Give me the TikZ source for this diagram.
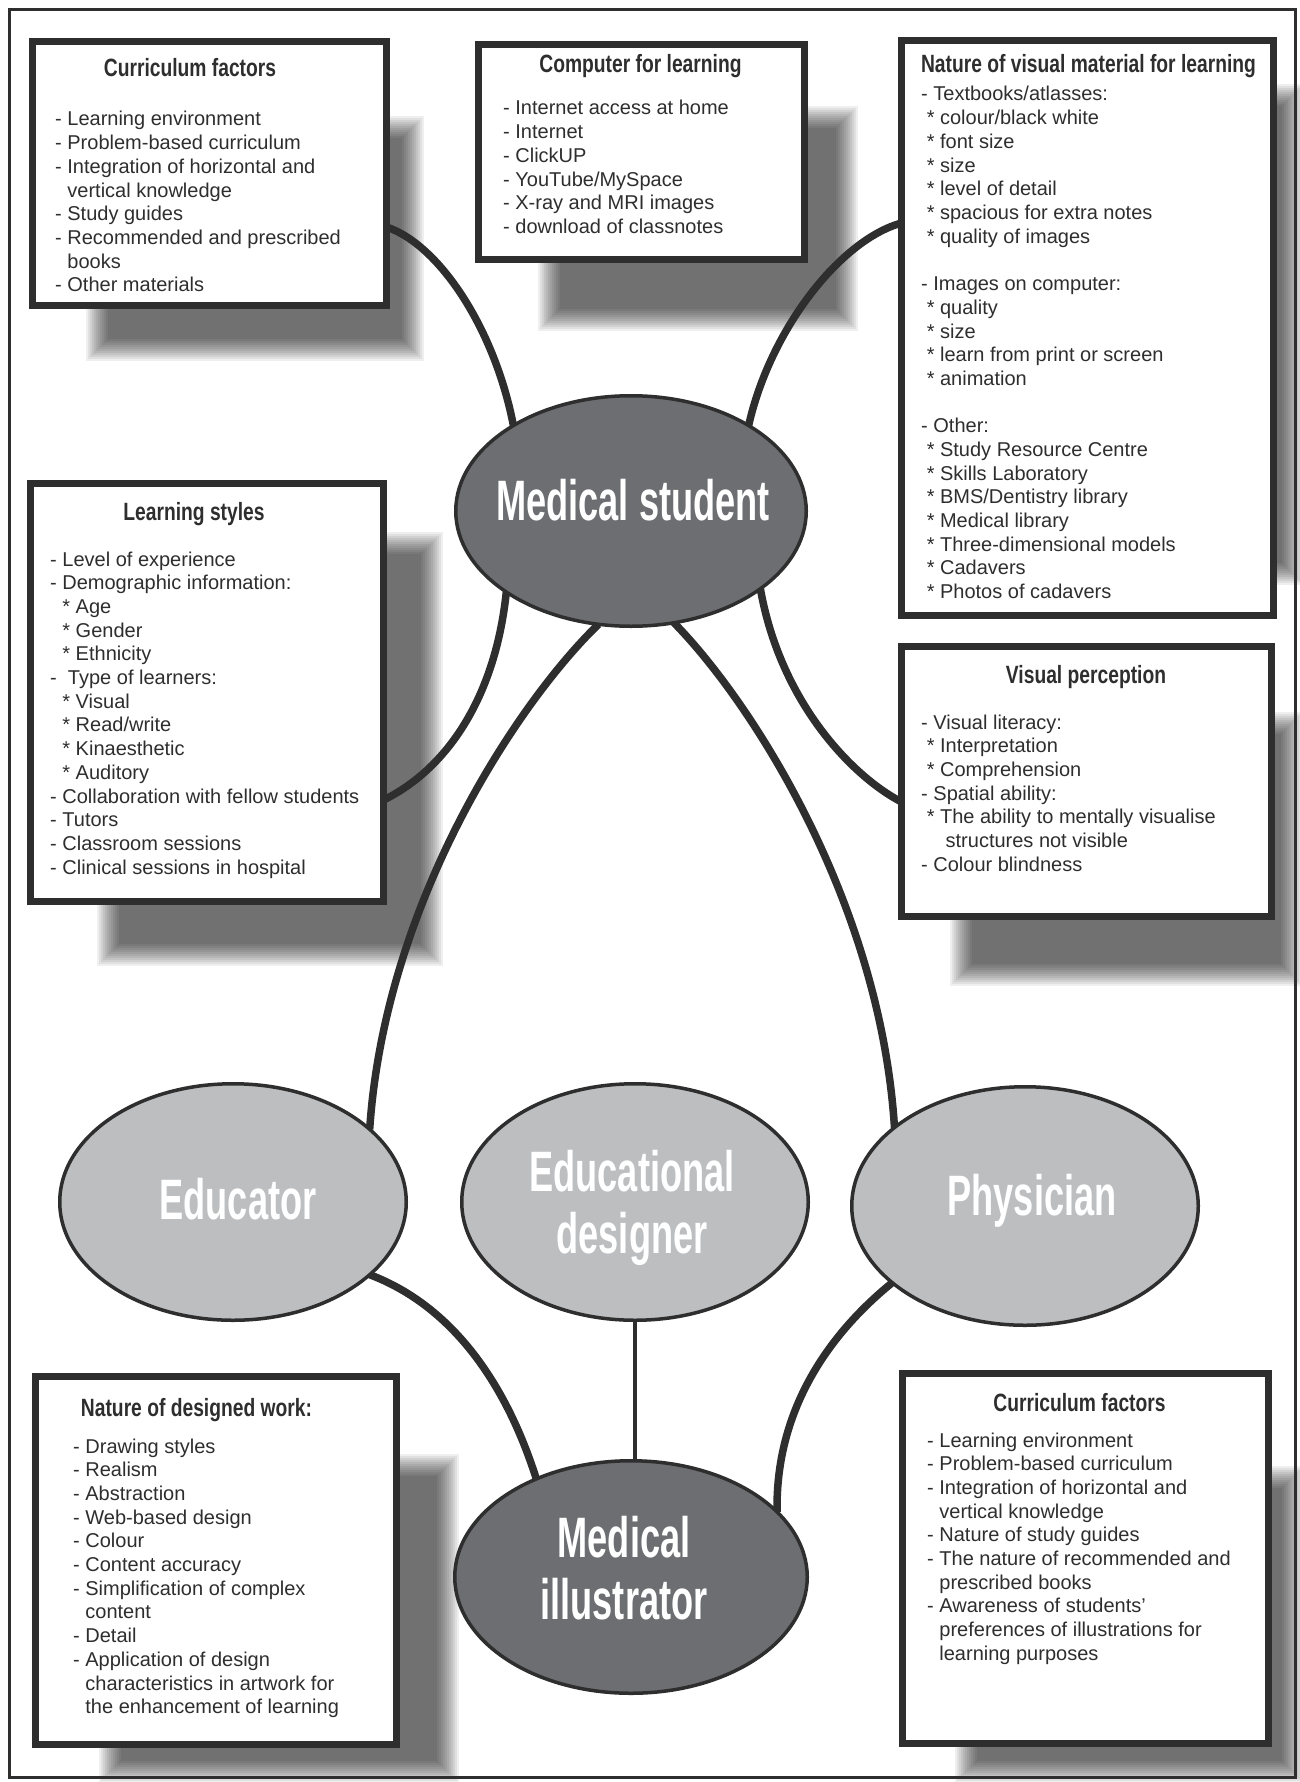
\documentclass[tikz,border=0pt]{standalone}
\usepackage{fontspec}
\setmainfont{Liberation Sans}
\newfontfamily\titlefont[FakeStretch=0.77]{Liberation Sans}
\newfontfamily\ellfont[FakeStretch=0.635]{Liberation Sans}
\usetikzlibrary{shapes.geometric}
\definecolor{ink}{HTML}{2E2E2E}
\definecolor{darkell}{HTML}{6D6E71}
\definecolor{lightell}{HTML}{BCBEC0}
\pgfdeclarelayer{paper}
\pgfdeclarelayer{shadow}
\pgfdeclarelayer{lines}
\pgfsetlayers{paper,shadow,lines,main}
\newcommand\myl[1]{\hbox{#1}}
\newcommand\blk[1]{\vtop{\baselineskip=23.7pt\lineskip=0pt\lineskiplimit=-100pt #1}}
\newcommand\myind{\hphantom{-\ }}
\newcommand\softshadow[4]{\foreach \k in {0,...,11}{\fill[black,opacity=0.063] ({#1-11+2*\k},{#2-11+2*\k}) rectangle ({#3+11-2*\k},{#4+11-2*\k});}}
\tikzset{
  infobox/.style={draw=ink, line width=7pt, fill=white, inner sep=0pt, outer sep=0pt},
  boxtitle/.style={anchor=base, inner sep=0pt, text=ink, font=\titlefont\bfseries\fontsize{25}{30}\selectfont},
  boxbody/.style={anchor=base west, inner sep=0pt, text=ink, font=\fontsize{20}{23.7}\selectfont},
  roleA/.style={ellipse, draw=ink, line width=3.5pt, fill=darkell, inner sep=0pt, outer sep=0pt},
  roleB/.style={roleA, fill=lightell},
  rolelabel/.style={anchor=base, inner sep=0pt, text=white, font=\ellfont\bfseries\fontsize{57}{62}\selectfont},
  link/.style={draw=ink, line width=7.5pt},
  thinlink/.style={draw=ink, line width=4.5pt},
  frame/.style={draw=ink, line width=3pt}
}
\begin{document}
\begin{tikzpicture}[x=1pt,y=-1pt]
\useasboundingbox (0,0) rectangle (1300,1782);
\begin{pgfonlayer}{paper}
\fill[white] (0,0) rectangle (1300,1782);
\end{pgfonlayer}
\draw[frame] (9.5,10) rectangle (1295,1777);

% shadows
\begin{pgfonlayer}{shadow}
\softshadow{97}{127}{413}{350}
\softshadow{549}{117}{847}{320}
\softshadow{960}{95}{1293}{574}
\softshadow{108}{543}{432}{955}
\softshadow{961}{723}{1292}{975}
\softshadow{110}{1465}{448}{1772}
\softshadow{966}{1477}{1293}{1772}
\end{pgfonlayer}

% boxes
\node[infobox, minimum width=354pt, minimum height=264pt] (b1) at (209.5,173.5) {};
\node[infobox, minimum width=326pt, minimum height=215pt] (b2) at (641.5,152) {};
\node[infobox, minimum width=372pt, minimum height=575pt] (b3) at (1087.5,328) {};
\node[infobox, minimum width=353pt, minimum height=418pt] (b4) at (207,692.5) {};
\node[infobox, minimum width=370pt, minimum height=270pt] (b5) at (1086.5,781.5) {};
\node[infobox, minimum width=361pt, minimum height=368pt] (b6) at (216,1560.5) {};
\node[infobox, minimum width=366pt, minimum height=370pt] (b7) at (1085.5,1558.5) {};

% titles
\node[boxtitle] (b1t) at (190,77) {Curriculum factors};
\node[boxtitle] (b2t) at (640.5,73) {Computer for learning};
\node[boxtitle] (b3t) at (1088.5,73) {Nature of visual material for learning};
\node[boxtitle] (b4t) at (194,520) {Learning styles};
\node[boxtitle] (b5t) at (1086,683) {Visual perception};
\node[boxtitle] (b6t) at (196.5,1416) {Nature of designed work:};
\node[boxtitle] (b7t) at (1079.5,1411) {Curriculum factors};

% bodies
\node[boxbody] (b1b) at (55,126) {\blk{%
\myl{- Learning environment}%
\myl{- Problem-based curriculum}%
\myl{- Integration of horizontal and}%
\myl{\myind vertical knowledge}%
\myl{- Study guides}%
\myl{- Recommended and prescribed}%
\myl{\myind books}%
\myl{- Other materials}}};

\node[boxbody] (b2b) at (503,115) {\blk{%
\myl{- Internet access at home}%
\myl{- Internet}%
\myl{- ClickUP}%
\myl{- YouTube/MySpace}%
\myl{- X-ray and MRI images}%
\myl{- download of classnotes}}};

\node[boxbody] (b3b) at (921,101) {\blk{%
\myl{- Textbooks/atlasses:}%
\myl{\ * colour/black white}%
\myl{\ * font size}%
\myl{\ * size}%
\myl{\ * level of detail}%
\myl{\ * spacious for extra notes}%
\myl{\ * quality of images}%
\myl{}%
\myl{- Images on computer:}%
\myl{\ * quality}%
\myl{\ * size}%
\myl{\ * learn from print or screen}%
\myl{\ * animation}%
\myl{}%
\myl{- Other:}%
\myl{\ * Study Resource Centre}%
\myl{\ * Skills Laboratory}%
\myl{\ * BMS/Dentistry library}%
\myl{\ * Medical library}%
\myl{\ * Three-dimensional models}%
\myl{\ * Cadavers}%
\myl{\ * Photos of cadavers}}};

\node[boxbody] (b4b) at (50,566) {\blk{%
\myl{- Level of experience}%
\myl{- Demographic information:}%
\myl{\myind * Age}%
\myl{\myind * Gender}%
\myl{\myind * Ethnicity}%
\myl{-\ \ Type of learners:}%
\myl{\myind * Visual}%
\myl{\myind * Read/write}%
\myl{\myind * Kinaesthetic}%
\myl{\myind * Auditory}%
\myl{- Collaboration with fellow students}%
\myl{- Tutors}%
\myl{- Classroom sessions}%
\myl{- Clinical sessions in hospital}}};

\node[boxbody] (b5b) at (921,729) {\blk{%
\myl{- Visual literacy:}%
\myl{\ * Interpretation}%
\myl{\ * Comprehension}%
\myl{- Spatial ability:}%
\myl{\ * The ability to mentally visualise}%
\myl{\hphantom{\ *\ }\ structures not visible}%
\myl{- Colour blindness}}};

\node[boxbody] (b6b) at (73,1453) {\blk{%
\myl{- Drawing styles}%
\myl{- Realism}%
\myl{- Abstraction}%
\myl{- Web-based design}%
\myl{- Colour}%
\myl{- Content accuracy}%
\myl{- Simplification of complex}%
\myl{\myind content}%
\myl{- Detail}%
\myl{- Application of design}%
\myl{\myind characteristics in artwork for}%
\myl{\myind the enhancement of learning}}};

\node[boxbody] (b7b) at (927,1447) {\blk{%
\myl{- Learning environment}%
\myl{- Problem-based curriculum}%
\myl{- Integration of horizontal and}%
\myl{\myind vertical knowledge}%
\myl{- Nature of study guides}%
\myl{- The nature of recommended and}%
\myl{\myind prescribed books}%
\myl{- Awareness of students’}%
\myl{\myind preferences of illustrations for}%
\myl{\myind learning purposes}}};

% ellipses
\node[roleA, minimum width=350.5pt, minimum height=230.5pt] (ms) at (631,511) {};
\node[roleB, minimum width=346.5pt, minimum height=236.5pt] (edu) at (233,1202) {};
\node[roleB, minimum width=346.5pt, minimum height=236.5pt] (ed) at (635,1202) {};
\node[roleB, minimum width=346.5pt, minimum height=238.5pt] (phy) at (1025,1206) {};
\node[roleA, minimum width=352.5pt, minimum height=232.5pt] (mi) at (631,1577) {};

\node[rolelabel] (mst) at (633,520) {Medical student};
\node[rolelabel] (edut) at (238,1219) {Educator};
\node[rolelabel] (edt) at (632,1191) {\vtop{\baselineskip=62pt\lineskiplimit=-100pt\hbox to 0pt{\hss Educational\hss}\hbox to 0pt{\hss designer\hss}}};
\node[rolelabel] (phyt) at (1032,1215) {Physician};
\node[rolelabel] (mit) at (624,1557) {\vtop{\baselineskip=62pt\lineskiplimit=-100pt\hbox to 0pt{\hss Medical\hss}\hbox to 0pt{\hss illustrator\hss}}};

% connectors
\begin{pgfonlayer}{lines}
\draw[link] ([yshift=-53.5pt]b1.east) .. controls (440,245) and (495,330) .. (ms.144.6);
\draw[link] ([yshift=105pt]b3.west) .. controls (840,240) and (770,330) .. (ms.36.7);
\draw[link] ([yshift=-107.5pt]b4.east) .. controls (445,770) and (495,700) .. (ms.213.7);
\draw[link] ([yshift=-20.5pt]b5.west) .. controls (850,775) and (780,700) .. (ms.329.2);
\draw[link] (ms.254.7) .. controls (520,700) and (385,900) .. (edu.28.2);
\draw[link] (ms.291.5) .. controls (750,700) and (880,900) .. (phy.149.5);
\draw[link] (edu.332.8) .. controls (450,1305) and (505,1380) .. (mi.134.4);
\draw[link] (phy.210.9) .. controls (840,1325) and (775,1400) .. (mi.24.9);
\draw[thinlink] (ed.south) -- (ed.south |- mi.north);
\end{pgfonlayer}
\end{tikzpicture}
\end{document}
